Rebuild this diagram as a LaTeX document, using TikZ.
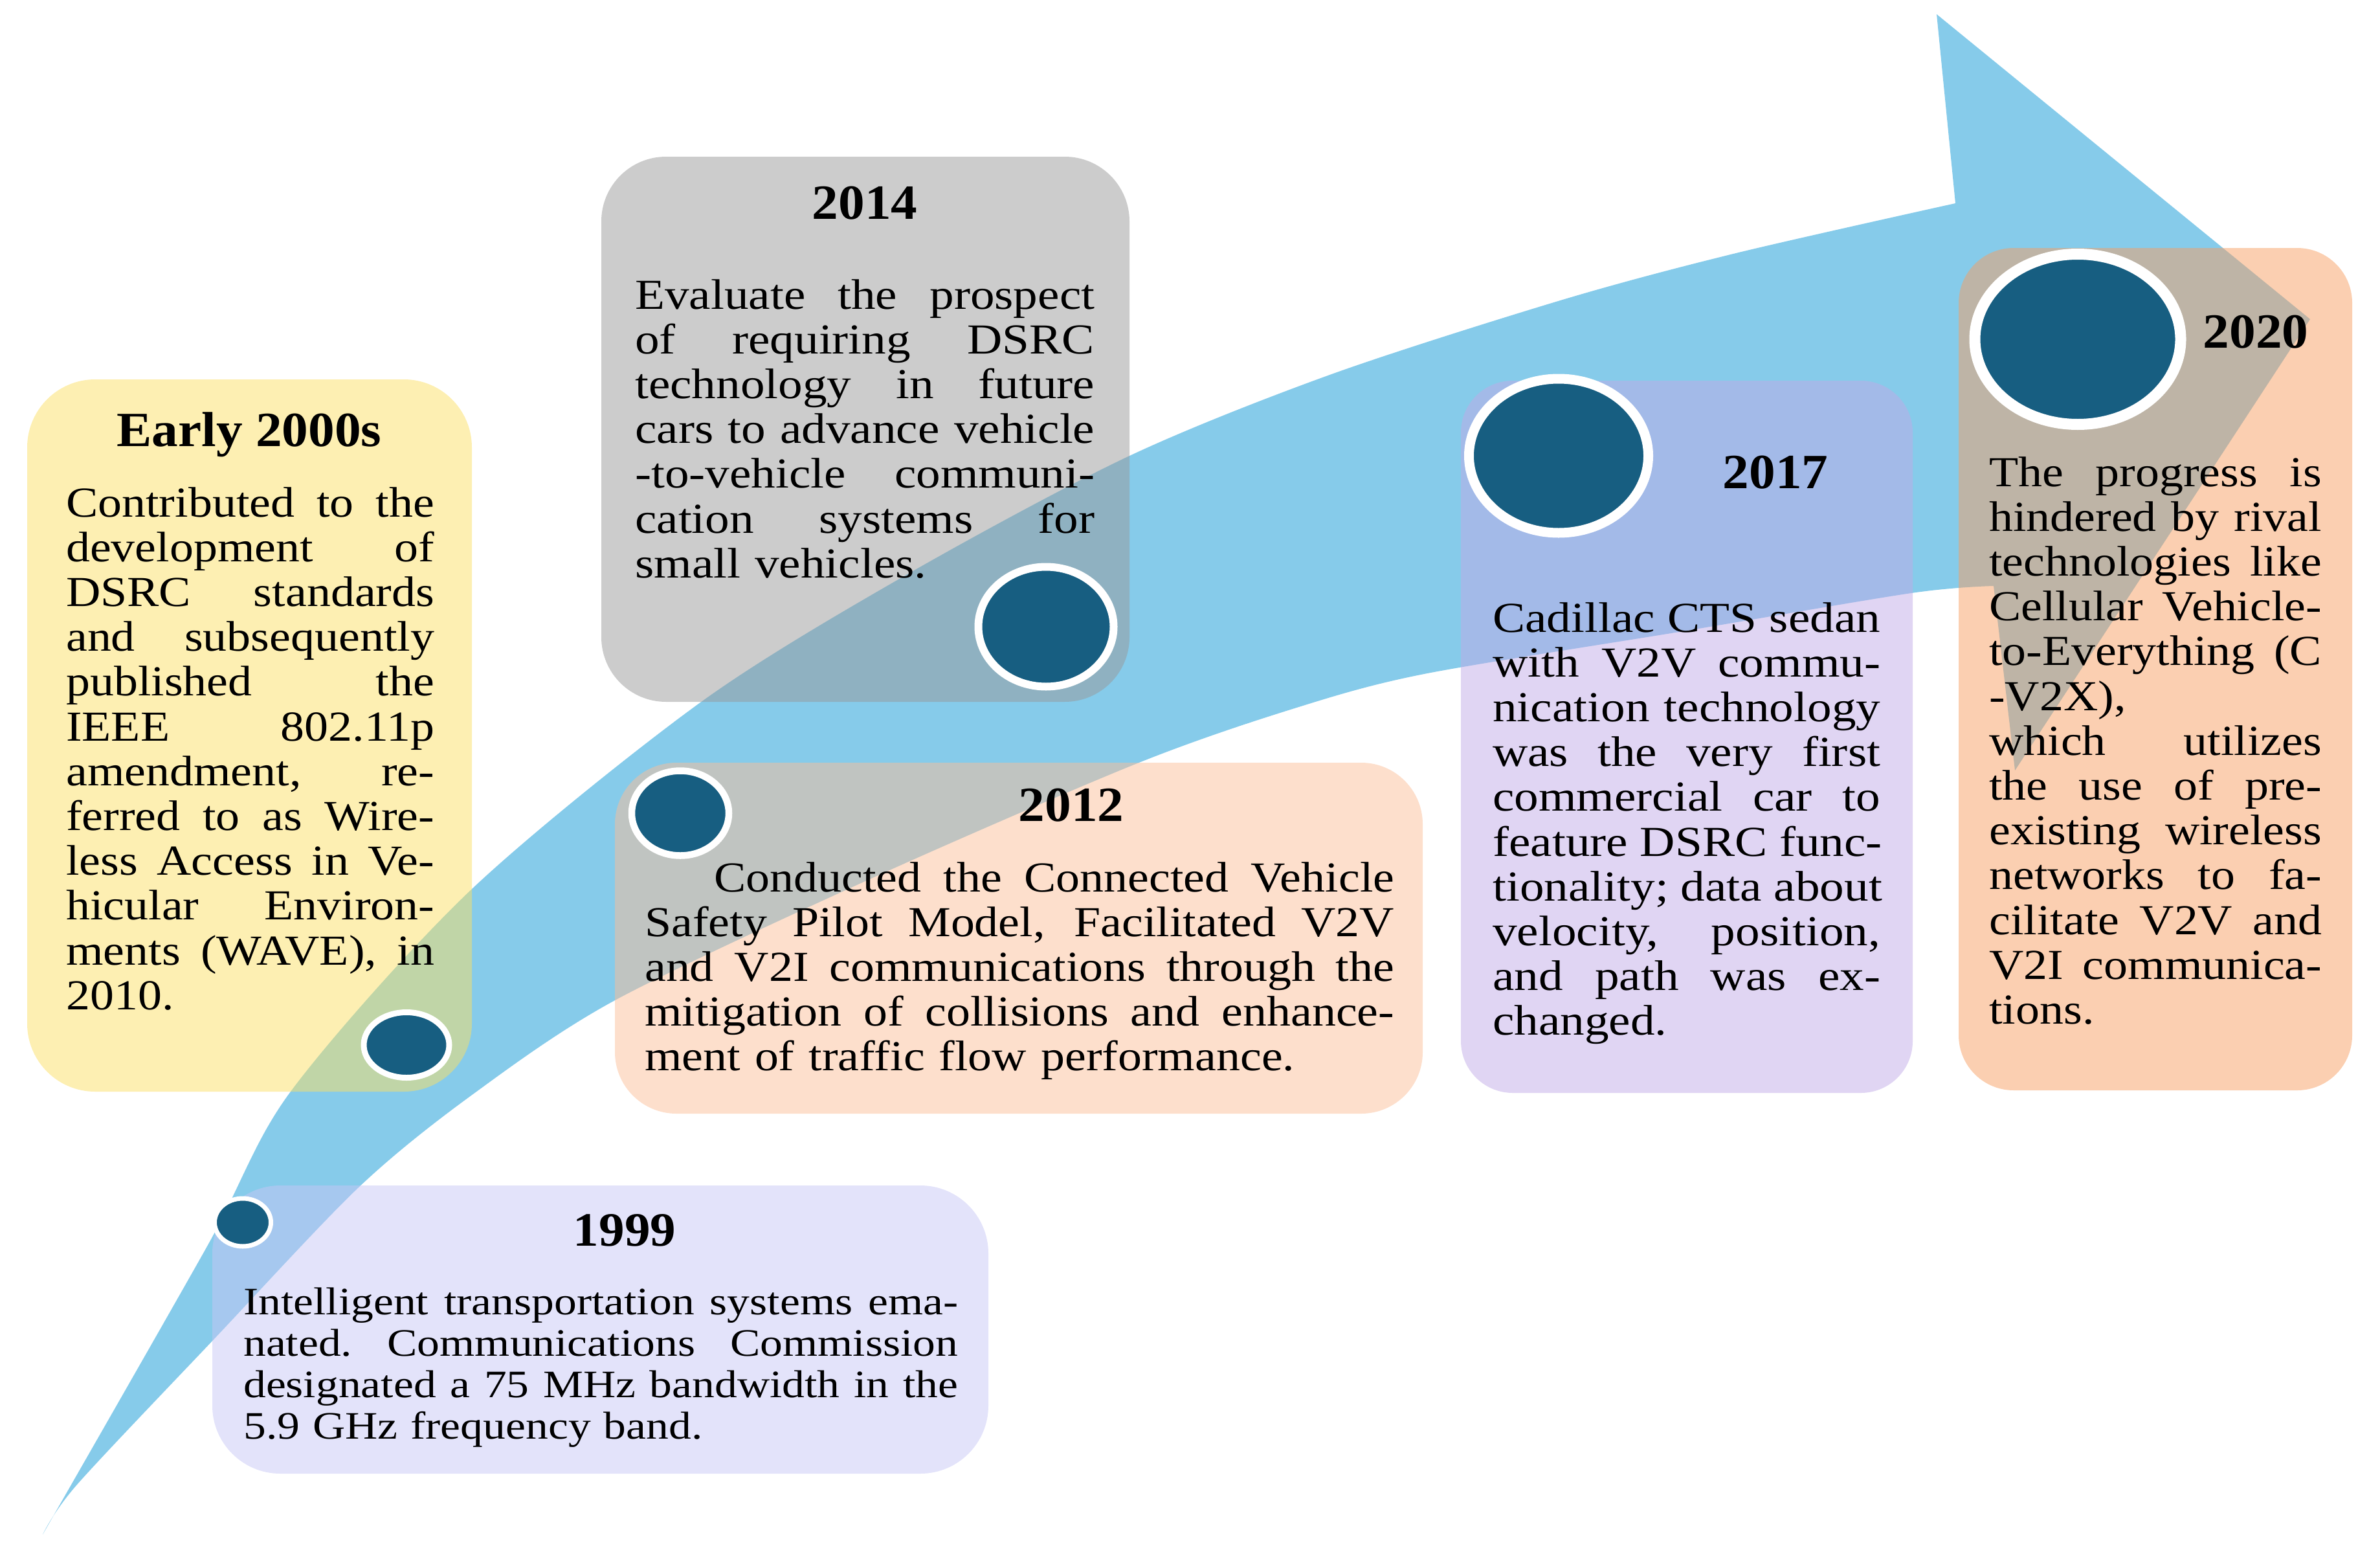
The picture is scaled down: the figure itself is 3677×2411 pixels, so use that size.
\documentclass[tikz,border=0pt]{standalone}
\usepackage{fontspec}
\setmainfont{Liberation Serif}
\newfontfamily\fA[FakeStretch=1.12]{Liberation Serif}
\newfontfamily\fB[FakeStretch=1.14]{Liberation Serif}
\newfontfamily\fC[FakeStretch=1.16]{Liberation Serif}
\newfontfamily\fT[FakeStretch=1.07]{Liberation Serif}
\usetikzlibrary{shapes.geometric}
\definecolor{arrowblue}{RGB}{134,203,234}
\definecolor{dotblue}{RGB}{23,94,129}
\definecolor{cYel}{RGB}{251,223,101}
\definecolor{cGray}{RGB}{153,153,153}
\definecolor{cPeach}{RGB}{251,191,153}
\definecolor{cLav}{RGB}{199,199,245}
\definecolor{cPurp}{RGB}{193,171,231}
\definecolor{cOrange}{RGB}{247,159,99}
\newcommand\jl[1]{{\spaceskip=\fontdimen2\font plus 1fil\relax\xspaceskip=\fontdimen2\font plus 1fil\relax\makebox[\hsize][s]{#1}}\\}
\tikzset{
 card/.style={rectangle, inner sep=0pt, outer sep=0pt, fill opacity=0.5},
 yeardot/.style={ellipse, inner sep=0pt, outer sep=0pt, fill=dotblue, draw=white},
 yeartitle/.style={inner sep=0pt, anchor=base, font=\fT\bfseries\fontsize{76}{80}\selectfont},
 bodytext/.style={inner sep=0pt, anchor=base west, align=left},
 bodyA/.style={bodytext, font=\fA\fontsize{66}{69.2}\selectfont},
 bodyB/.style={bodytext, font=\fB\fontsize{66}{69.2}\selectfont},
 bodyC/.style={bodytext, font=\fC\fontsize{60}{64.3}\selectfont},
}
\begin{document}
\begin{tikzpicture}[x=1pt,y=-1pt]
\useasboundingbox (0,0) rectangle (3677,2411);
% big arrow
\fill[arrowblue] plot[smooth, tension=0.5] coordinates {(66,2370) (320,1925) (449,1686) (727,1375) (1082,1085) (1400,888) (1743,705) (2057,578) (2414,463) (2682,391) (3021,314)}
  -- (2992,22) -- (3569,493) -- (3113,1190) -- (3080,905)
  -- plot[smooth, tension=0.5] coordinates {(3080,905) (2953,916) (2600,975) (2200,1041) (2000,1094) (1757,1179) (1350,1355) (950,1545) (728,1692) (554,1834) (330,2069) (119,2293) (66,2370)} -- cycle;
% cards
\node[card, fill=cYel, rounded corners=105pt, minimum width=687pt, minimum height=1100pt] (cardE) at (385.5,1136) {};
\node[card, fill=cGray, rounded corners=100pt, minimum width=816pt, minimum height=842pt] (card14) at (1337,663) {};
\node[card, fill=cPeach, rounded corners=95pt, minimum width=1248pt, minimum height=542pt] (card12) at (1574,1449) {};
\node[card, fill=cLav, rounded corners=105pt, minimum width=1199pt, minimum height=445pt] (card99) at (927.5,2053.5) {};
\node[card, fill=cPurp, rounded corners=80pt, minimum width=698pt, minimum height=1100pt] (card17) at (2606,1138) {};
\node[card, fill=cOrange, rounded corners=85pt, minimum width=608pt, minimum height=1301pt] (card20) at (3330,1033.5) {};
% titles
\node[yeartitle] (tE) at (385,689) {Early 2000s};
\node[yeartitle] (t14) at (1336,338) {2014};
\node[yeartitle] (t12) at (1655,1268) {2012};
\node[yeartitle, font=\fT\bfseries\fontsize{74}{78}\selectfont] (t99) at (965,1924) {1999};
\node[yeartitle] (t17) at (2743,754) {2017};
\node[yeartitle] (t20) at (3485,537) {2020};
% bodies
\node[bodyA, text width=569pt] (bE) at (102,798) {\jl{Contributed to the}\jl{development of}\jl{DSRC standards}\jl{and subsequently}\jl{published the}\jl{IEEE 802.11p}\jl{amendment, re-}\jl{ferred to as Wire-}\jl{less Access in Ve-}\jl{hicular Environ-}\jl{ments (WAVE), in}2010.};
\node[bodyB, text width=710pt] (b14) at (981,477) {\jl{Evaluate the prospect}\jl{of requiring DSRC}\jl{technology in future}\jl{cars to advance vehicle}\jl{-to-vehicle communi-}\jl{cation systems for}small vehicles.};
\node[bodyA, text width=1158pt] (b12) at (996,1377) {\jl{\hspace*{107pt}Conducted the Connected Vehicle}\jl{Safety Pilot Model, Facilitated V2V}\jl{and V2I communications through the}\jl{mitigation of collisions and enhance-}ment of traffic flow performance.};
\node[bodyC, text width=1104pt] (b99) at (376,2030) {\jl{Intelligent transportation systems ema-}\jl{nated. Communications Commission}\jl{designated a 75 MHz bandwidth in the}5.9 GHz frequency band.};
\node[bodyB, text width=599pt] (b17) at (2306,976) {\jl{Cadillac CTS sedan}\jl{with V2V commu-}\jl{nication technology}\jl{was the very first}\jl{commercial car to}\jl{feature DSRC func-}\jl{tionality; data about}\jl{velocity, position,}\jl{and path was ex-}changed.};
\node[bodyA, text width=514pt] (b20) at (3073,751) {\jl{The progress is}\jl{hindered by rival}\jl{technologies like}\jl{Cellular Vehicle-}\jl{to-Everything (C}-V2X),\\\jl{which utilizes}\jl{the use of pre-}\jl{existing wireless}\jl{networks to fa-}\jl{cilitate V2V and}\jl{V2I communica-}tions.};
% dots
\node[yeardot, line width=9pt, minimum width=132pt, minimum height=101pt] (dE) at (628,1614) {};
\node[yeardot, line width=12pt, minimum width=209pt, minimum height=185pt] (d14) at (1616,968) {};
\node[yeardot, line width=10.5pt, minimum width=150pt, minimum height=131pt] (d12) at (1051,1256) {};
\node[yeardot, line width=7pt, minimum width=87pt, minimum height=74pt] (d99) at (375,1888) {};
\node[yeardot, line width=15pt, minimum width=277pt, minimum height=238pt] (d17) at (2408,704) {};
\node[yeardot, line width=17pt, minimum width=318pt, minimum height=263pt] (d20) at (3210,524) {};
\end{tikzpicture}
\end{document}
